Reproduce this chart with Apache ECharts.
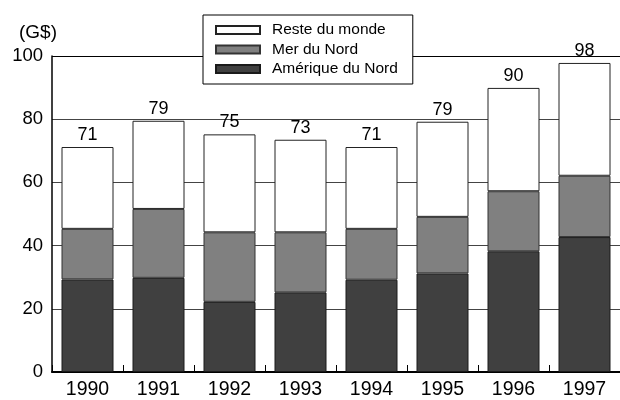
<!DOCTYPE html>
<html>
<head>
<meta charset="utf-8">
<script src="https://cdn.jsdelivr.net/npm/echarts@6/dist/echarts.min.js"></script>
<style>
  html, body {margin: 0; padding: 0; background: #fff;}
  #chart {width: 620px; height: 400px;}
</style>
</head>
<body>
<div id="chart"></div>
<script>
var years = ['1990', '1991', '1992', '1993', '1994', '1995', '1996', '1997'];
var ameriqueNord = [29.3, 29.8, 22.2, 25.2, 29.2, 31.2, 38.2, 42.7];
var merNord = [16.0, 21.8, 22.0, 19.0, 16.1, 17.9, 19.0, 19.4];
var resteMonde = [25.9, 27.9, 31.0, 29.3, 25.9, 30.1, 32.7, 35.7];
var totals = [71, 79, 75, 73, 71, 79, 90, 98];
var yTicks = [0, 20, 40, 60, 80, 100];

var font = 'Liberation Sans, Arial, sans-serif';

var chart = echarts.init(document.getElementById('chart'));
chart.setOption({
  animation: false,
  textStyle: {fontFamily: font},
  legend: {
    orient: 'vertical',
    left: 203,
    top: 15,
    data: ['Reste du monde', 'Mer du Nord', 'Amérique du Nord'],
    icon: 'rect',
    itemWidth: 44,
    itemHeight: 8,
    itemGap: 3.5,
    padding: [7, 15, 7, 12],
    backgroundColor: '#fff',
    borderColor: '#000',
    borderWidth: 1,
    borderRadius: 0,
    textStyle: {fontSize: 15.5, color: '#000', fontFamily: font, padding: [0, 0, 0, 7]}
  },
  grid: {left: 52, right: -8, top: 56, bottom: 27},
  xAxis: {
    type: 'category',
    data: years,
    axisLine: {lineStyle: {color: '#000', width: 2}},
    axisTick: {show: true, inside: true, length: 7, lineStyle: {color: '#000', width: 1}},
    axisLabel: {fontSize: 19.5, color: '#000', margin: 8, fontFamily: font}
  },
  yAxis: {
    type: 'value',
    min: yTicks[0],
    max: yTicks[yTicks.length - 1],
    interval: 20,
    name: '(G$)',
    nameLocation: 'end',
    nameGap: 14,
    nameTextStyle: {fontSize: 19, color: '#000', align: 'center', padding: [0, 28, 0, 0], fontFamily: font},
    axisLine: {show: true, lineStyle: {color: '#000', width: 1.5}},
    axisTick: {show: false},
    axisLabel: {fontSize: 18.5, color: '#000', margin: 9, fontFamily: font},
    splitLine: {lineStyle: {color: ['#000', '#444', '#444', '#444', '#444', '#000'], width: 1}}
  },
  series: [
    {
      name: 'Amérique du Nord',
      type: 'bar',
      stack: 'total',
      barWidth: 52,
      data: ameriqueNord,
      itemStyle: {color: '#404040', borderColor: '#1a1a1a', borderWidth: 1}
    },
    {
      name: 'Mer du Nord',
      type: 'bar',
      stack: 'total',
      barWidth: 52,
      data: merNord,
      itemStyle: {color: '#808080', borderColor: '#333', borderWidth: 1}
    },
    {
      name: 'Reste du monde',
      type: 'bar',
      stack: 'total',
      barWidth: 52,
      data: resteMonde,
      itemStyle: {color: '#fff', borderColor: '#222', borderWidth: 1},
      label: {
        show: true,
        position: 'top',
        distance: 3,
        fontSize: 18,
        color: '#000',
        fontFamily: font,
        formatter: function (p) { return totals[p.dataIndex]; }
      }
    }
  ]
});
</script>
</body>
</html>
